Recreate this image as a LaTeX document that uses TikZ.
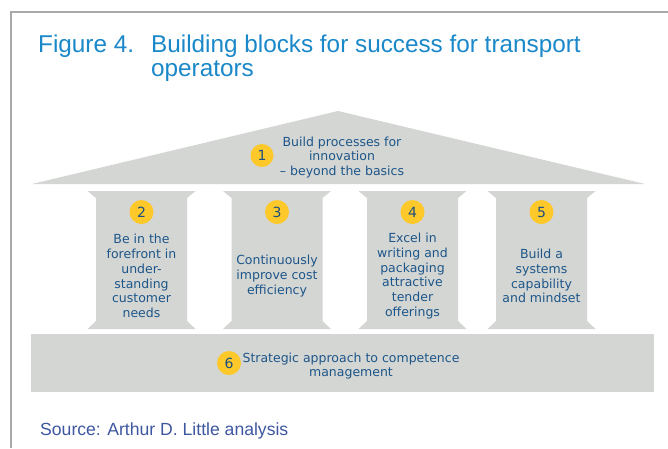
\documentclass[tikz,border=0pt]{standalone}
\usepackage{fontspec}
\setmainfont{Liberation Sans}
\newfontfamily\blockfont{DejaVu Sans}
\definecolor{titleblue}{HTML}{1A88C9}
\definecolor{textblue}{HTML}{1D568A}
\definecolor{numblue}{HTML}{1D4F80}
\definecolor{stonegray}{HTML}{D4D6D3}
\definecolor{badgeyellow}{HTML}{FDC82A}
\definecolor{framegray}{HTML}{A9A9A9}
\definecolor{srcblue}{HTML}{3E57A1}
\begin{document}
\begin{tikzpicture}[x=1pt,y=-1pt,
  stone/.style={fill=stonegray,draw=none},
  badgenum/.style={circle,fill=badgeyellow,inner sep=0pt,minimum size=24pt,
    text=numblue,font=\blockfont\fontsize{14pt}{14pt}\selectfont},
  blocktext/.style={align=center,text=textblue,inner sep=0pt,
    font=\blockfont\fontsize{12.5pt}{14.7pt}\selectfont},
  titletext/.style={anchor=base west,inner sep=0pt,text=titleblue,
    font=\fontsize{24.3pt}{25pt}\selectfont},
  sourcetext/.style={anchor=base west,inner sep=0pt,text=srcblue,
    font=\fontsize{17.6pt}{20pt}\selectfont}]
\useasboundingbox (0,0) rectangle (668,448);
\fill[white] (0,0) rectangle (668,448);
% outer frame (open to the right and bottom)
\draw[framegray,line width=2pt] (11,448) -- (11,12) -- (668,12);

% title
\node[titletext] (fig) at (38,52) {Figure 4.};
\node[titletext] (title1) at (151,52) {Building blocks for success for transport};
\node[titletext] (title2) at (151,76) {operators};

% roof
\fill[stone] (32,184) -- (338,111) -- (645,184) -- cycle;
\node[badgenum,minimum size=23pt] (b1) at (262,155.5) {1};
\node[blocktext] (t1) at (342,157.5) {Build processes for\\innovation\\– beyond the basics};

% pillars
\foreach \cx in {141.5,277,412.5,541.5}{
  \fill[stone] (\cx-54,191) -- (\cx+54,191) -- (\cx+45.5,198) -- (\cx+45.5,321)
    -- (\cx+54,329) -- (\cx-54,329) -- (\cx-45.5,321) -- (\cx-45.5,198) -- cycle;
}
\node[badgenum] (b2) at (141.5,212) {2};
\node[badgenum] (b3) at (277,212) {3};
\node[badgenum] (b4) at (412.5,212) {4};
\node[badgenum] (b5) at (541.5,212) {5};
\node[blocktext] (t2) at (141.5,276) {Be in the\\forefront in\\under-\\standing\\customer\\needs};
\node[blocktext] (t3) at (277,276) {Continuously\\improve cost\\efficiency};
\node[blocktext] (t4) at (412.5,276) {Excel in\\writing and\\packaging\\attractive\\tender\\offerings};
\node[blocktext] (t5) at (541.5,276) {Build a\\systems\\capability\\and mindset};

% foundation
\fill[stone] (31,334) rectangle (654,392);
\node[badgenum] (b6) at (229,363) {6};
\node[blocktext] (t6) at (351,366) {Strategic approach to competence\\management};

% source line
\node[sourcetext] (src) at (40,435) {Source: Arthur D. Little analysis};
\end{tikzpicture}
\end{document}
